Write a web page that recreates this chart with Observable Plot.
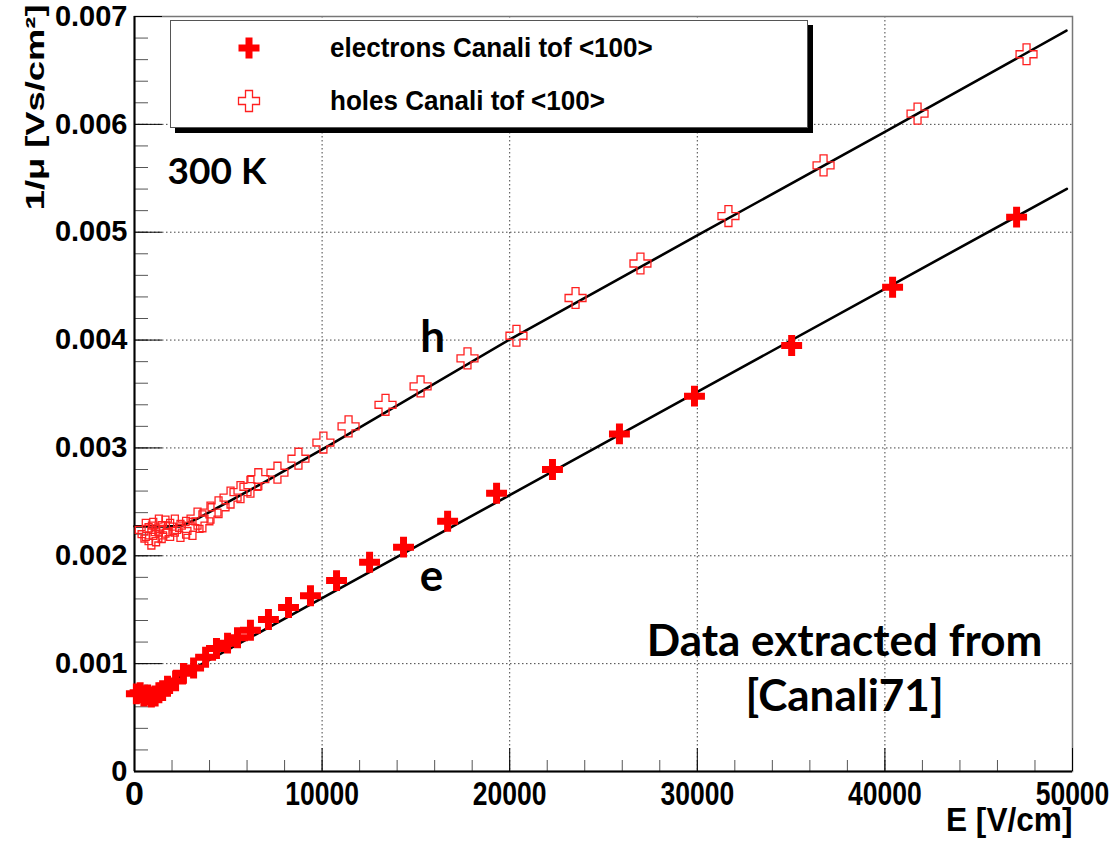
<!DOCTYPE html>
<html><head><meta charset="utf-8">
<script src="https://cdn.jsdelivr.net/npm/d3@7"></script>
<script src="https://cdn.jsdelivr.net/npm/@observablehq/plot@0.6"></script>
<style>
body{margin:0;background:#fff}
#wrap{position:relative;width:1115px;height:842px}
#legend{position:absolute;left:170px;top:20px;width:636px;height:106px;border:1px solid #555;background:#fff;box-shadow:5px 5px 0 #000;font-family:"Liberation Sans",Arial,sans-serif;font-weight:bold;font-size:28px}
.entry{position:absolute;left:0;height:30px;width:100%}
.entry svg{position:absolute;left:63px;top:0}
.entry span{position:absolute;left:159px;top:0;line-height:30px;transform:scaleX(0.93);transform-origin:left center;white-space:nowrap}
</style>
</head><body><div id="wrap"></div>
<script>
// electrons Canali tof <100>
const electronE   = [100, 300, 500, 700, 900, 1100, 1300, 1500, 1760, 2190, 2610, 3150, 3790, 4370, 4960, 5490, 6180, 7140, 8210, 9380, 10770, 12530, 14340, 16690, 19300, 22280, 25850, 29850, 35030, 40410, 47020];
const electronInv = [0.00072, 0.00073, 0.00070, 0.00071, 0.00069, 0.00070, 0.00073, 0.00075, 0.00079, 0.00084, 0.00091, 0.00096, 0.00106, 0.00114, 0.00119, 0.00124, 0.00131, 0.00141, 0.00152, 0.00163, 0.00177, 0.00194, 0.00208, 0.00232, 0.00258, 0.00280, 0.00313, 0.00348, 0.00395, 0.00449, 0.00514];
// holes Canali tof <100>
const holeE   = [600, 750, 900, 1000, 1150, 1300, 1450, 1650, 1900, 2150, 2450, 2750, 3090, 3360, 3620, 4050, 4480, 5120, 5650, 6180, 6600, 7620, 8740, 10070, 11410, 13380, 15250, 17750, 20360, 23510, 26970, 31660, 36730, 41740, 47550];
const holeInv = [0.00224, 0.00220, 0.00216, 0.00225, 0.00219, 0.00228, 0.00222, 0.00227, 0.00224, 0.00228, 0.00223, 0.00226, 0.00225, 0.002345, 0.00232, 0.00240, 0.00245, 0.00254, 0.00259, 0.00264, 0.00271, 0.00277, 0.00290, 0.00305, 0.00320, 0.00340, 0.00357, 0.00383, 0.00404, 0.00439, 0.00471, 0.00515, 0.00562, 0.00610, 0.00665];
// fit curves
const eFitE   = [0, 900, 1500, 3000, 10000, 20000, 30000, 40000, 49700];
const eFitInv = [0.000732, 0.000732, 0.000790, 0.000940, 0.001607, 0.002563, 0.003519, 0.004475, 0.005402];
const hFitE   = [0, 2450, 3360, 5120, 6880, 10450, 19990, 30000, 40000, 49680];
const hFitInv = [0.002273, 0.002273, 0.002345, 0.002512, 0.002678, 0.003030, 0.004004, 0.004970, 0.005930, 0.006868];
// ticks
const xMajor = [0, 10000, 20000, 30000, 40000, 50000];
const xMinor = d3.range(0, 50001, 2000);
const yMajor = [0, 0.001, 0.002, 0.003, 0.004, 0.005, 0.006, 0.007];
const yMinor = d3.range(0, 0.00701, 0.0002);
const xGrid = [10000, 20000, 30000, 40000];
const yGrid = [0.001, 0.002, 0.003, 0.004, 0.005, 0.006];
// titles and annotations
const xTitle = "E [V/cm]";
const yTitle = "1/\u03bc [Vs/cm\u00b2]";
const tempLabel = "300 K";
const tempE = 1760, tempInv = 0.005556;
const noteText = ["h", "e", "Data extracted from", "[Canali71]"];
const noteE    = [15890, 15830, 37850, 37850];
const noteInv  = [0.004022, 0.00180, 0.00120, 0.00069];

const electrons = electronE.map((e, i) => ({E: e, v: electronInv[i]}));
const holes = holeE.map((e, i) => ({E: e, v: holeInv[i]}));
const eFit = eFitE.map((e, i) => ({E: e, v: eFitInv[i]}));
const hFit = hFitE.map((e, i) => ({E: e, v: hFitInv[i]}));
const notes = noteText.map((t, i) => ({t, E: noteE[i], v: noteInv[i]}));

const arial = '"Liberation Sans",Arial,sans-serif';
const calib = 'Lato,"Open Sans",sans-serif';

const plot = Plot.plot({
  width: 1115, height: 842,
  marginLeft: 134, marginRight: 43, marginTop: 16, marginBottom: 71,
  x: {domain: [0, 50000]},
  y: {domain: [0, 0.007]},
  style: {background: "white", fontFamily: arial, overflow: "visible"},
  marks: [
    Plot.gridX(xGrid, {stroke: "#444", strokeOpacity: 1, strokeDasharray: "1.5,2.5", strokeWidth: 1}),
    Plot.gridY(yGrid, {stroke: "#444", strokeOpacity: 1, strokeDasharray: "1.5,2.5", strokeWidth: 1}),
    Plot.frame({stroke: "#777", strokeWidth: 1.5}),
    Plot.axisX(xMinor, {tickSize: -11, tickFormat: () => "", label: null, stroke: "#555"}),
    Plot.axisX(xMajor, {tickSize: -23, tickPadding: 32, tickFormat: d => String(d), label: null,
      fontSize: 34, fontWeight: "bold", fill: "black"}),
    Plot.axisY(yMinor, {tickSize: -14, tickFormat: () => "", label: null, stroke: "#555"}),
    Plot.axisY(yMajor, {tickSize: -28, tickPadding: 35, label: null,
      tickFormat: d => d === 0 ? "0" : d.toFixed(3),
      fontSize: 29, fontWeight: "bold", fill: "black"}),
    Plot.ruleX([0], {stroke: "black", strokeWidth: 2}),
    Plot.ruleY([0], {stroke: "black", strokeWidth: 2}),
    Plot.text([xTitle], {frameAnchor: "bottom-right", textAnchor: "end", dy: 59, fontSize: 34,
      fontWeight: "bold", fill: "black"}),
    Plot.text([yTitle], {frameAnchor: "top-left", textAnchor: "end", rotate: -90,
      dx: -109, dy: -12, fontSize: 33, fontWeight: "bold", fill: "black"}),
    Plot.line(hFit, {x: "E", y: "v", stroke: "black", strokeWidth: 2.6}),
    Plot.line(eFit, {x: "E", y: "v", stroke: "black", strokeWidth: 2.6}),
    Plot.dot(holes, {x: "E", y: "v", symbol: "cross", r: 8.8, fill: "none", stroke: "#ff2020", strokeWidth: 1.3}),
    Plot.dot(electrons, {x: "E", y: "v", symbol: "cross", r: 8.8, fill: "#ff0000", stroke: null}),
    Plot.text([tempLabel], {x: () => tempE, y: () => tempInv, textAnchor: "start", fontSize: 37,
      fontWeight: "bold", fontFamily: calib, fill: "black"}),
    Plot.text(notes, {x: "E", y: "v", text: "t", textAnchor: "middle", fontSize: 44,
      fontWeight: "bold", fontFamily: calib, fill: "black"})
  ]
});
const wrap = document.getElementById("wrap");
wrap.appendChild(plot);

// condense some labels (the reference uses a narrow bold face)
function condense(pred, factor) {
  plot.querySelectorAll("text").forEach(t => {
    if (!pred(t)) return;
    const w = t.getComputedTextLength();
    if (w > 0) {
      t.setAttribute("textLength", (w * factor).toFixed(1));
      t.setAttribute("lengthAdjust", "spacingAndGlyphs");
    }
  });
}
const xLabelSet = new Set(xMajor.filter(d => d > 0).map(String));
condense(t => xLabelSet.has(t.textContent), 0.78);
condense(t => t.textContent === xTitle, 0.93);
condense(t => t.textContent === yTitle, 1.1);
// the vertical title's glyphs are narrow across the axis in the reference
plot.querySelectorAll("text").forEach(t => {
  if (t.textContent !== yTitle) return;
  const tr = t.getAttribute("transform") || "";
  t.setAttribute("transform", tr + " scale(1,0.78)");
});

// legend
const legendItems = [
  {label: "electrons Canali tof <100>", fill: "#ff0000", stroke: "none", top: 12},
  {label: "holes Canali tof <100>", fill: "none", stroke: "#ff2020", top: 65}
];
const sym = d3.symbol(d3.symbolCross, 245)();
const lg = document.createElement("div");
lg.id = "legend";
legendItems.forEach(it => {
  const en = document.createElement("div");
  en.className = "entry";
  en.style.top = it.top + "px";
  en.innerHTML = `<svg width="30" height="30" viewBox="-15 -15 30 30"><path d="${sym}" fill="${it.fill}" stroke="${it.stroke}" stroke-width="1.3"/></svg><span>${it.label.replace(/</g,"&lt;").replace(/>/g,"&gt;")}</span>`;
  lg.appendChild(en);
});
wrap.appendChild(lg);
</script>
</body></html>
